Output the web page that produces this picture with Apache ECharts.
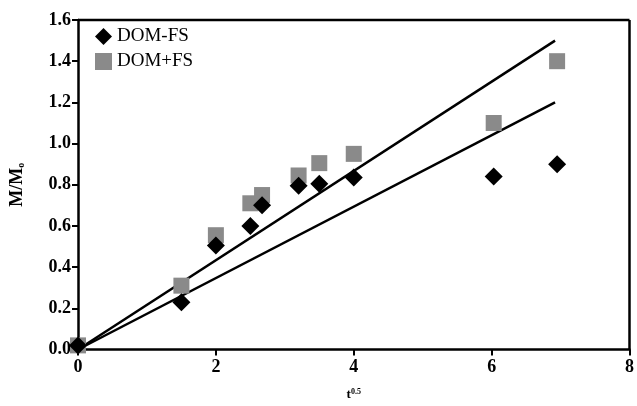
<!DOCTYPE html>
<html>
<head>
<meta charset="utf-8">
<script src="https://cdn.jsdelivr.net/npm/echarts@6/dist/echarts.min.js"></script>
<style>
  html, body { margin: 0; padding: 0; background: #fff; }
  #main { width: 637px; height: 406px; }
</style>
</head>
<body>
<div id="main"></div>
<script>
// t^0.5 values shared by both series
const tSqrt = [0, 1.5, 2, 2.5, 2.67, 3.2, 3.5, 4, 6.03, 6.95];
const domMinusFs = [0.02, 0.23, 0.505, 0.6, 0.7, 0.795, 0.805, 0.835, 0.84, 0.9];
const domPlusFs = [0.02, 0.31, 0.555, 0.71, 0.75, 0.845, 0.905, 0.95, 1.1, 1.4];
// fitted straight lines (start, end)
const fitUpper = [[0, 0], [6.92, 1.5]];
const fitLower = [[0, 0], [6.92, 1.2]];
const xTicks = [0, 2, 4, 6, 8];
const yTicks = [0, 0.2, 0.4, 0.6, 0.8, 1.0, 1.2, 1.4, 1.6];

const pair = (xs, ys) => xs.map((x, i) => [x, ys[i]]);
const font = '"Liberation Serif", "DejaVu Serif", serif';

const chart = echarts.init(document.getElementById('main'));
chart.setOption({
  backgroundColor: '#fff',
  animation: false,
  textStyle: { fontFamily: font },
  grid: { left: 76, right: 4, top: 20, bottom: 56 },
  legend: {
    left: 90, top: 22, orient: 'vertical', itemGap: 6,
    itemWidth: 17, itemHeight: 17,
    data: ['DOM-FS', 'DOM+FS'],
    textStyle: { fontFamily: font, fontSize: 19, color: '#000' }
  },
  xAxis: {
    type: 'value', min: 0, max: 8, interval: 2,
    name: 't{sup|0.5}', nameLocation: 'middle', nameGap: 38,
    nameTextStyle: {
      fontFamily: font, fontSize: 13, fontWeight: 'bold', color: '#000',
      rich: { sup: { fontSize: 8, fontWeight: 'bold', verticalAlign: 'top', padding: [0, 0, 6, 0] } }
    },
    axisLine: { onZero: false, lineStyle: { color: '#000', width: 2.5 } },
    axisTick: { show: true, inside: false, length: 6, lineStyle: { width: 2 } },
    axisLabel: {
      color: '#000', fontSize: 18, fontWeight: 'bold', margin: 9,
      formatter: v => xTicks.includes(v) ? String(v) : ''
    },
    splitLine: { show: false }
  },
  yAxis: {
    type: 'value', min: 0, max: 1.6, interval: 0.2,
    name: 'M/M{sub|o}', nameLocation: 'middle', nameGap: 52,
    nameTextStyle: {
      fontFamily: font, fontSize: 18, fontWeight: 'bold', color: '#000',
      rich: { sub: { fontSize: 10, fontWeight: 'bold', verticalAlign: 'bottom', padding: [7, 0, 0, 0] } }
    },
    axisLine: { onZero: false, lineStyle: { color: '#000', width: 2.5 } },
    axisTick: { show: true, inside: false, length: 6, lineStyle: { width: 2 } },
    axisLabel: {
      color: '#000', fontSize: 18, fontWeight: 'bold', margin: 7,
      formatter: v => yTicks.some(t => Math.abs(t - v) < 1e-6) ? v.toFixed(1) : ''
    },
    splitLine: { show: false }
  },
  series: [
    {
      type: 'line', data: fitUpper, symbol: 'none', silent: true,
      lineStyle: { color: '#000', width: 2.5 }, z: 2
    },
    {
      type: 'line', data: fitLower, symbol: 'none', silent: true,
      lineStyle: { color: '#000', width: 2.5 }, z: 2
    },
    {
      name: 'DOM+FS', type: 'scatter', symbol: 'rect', symbolSize: 16,
      itemStyle: { color: '#8a8a8a', opacity: 1 },
      data: pair(tSqrt, domPlusFs), z: 3
    },
    {
      name: 'DOM-FS', type: 'scatter', symbol: 'diamond', symbolSize: 18,
      itemStyle: { color: '#000', opacity: 1 },
      data: pair(tSqrt, domMinusFs), z: 4
    }
  ]
});

// frame: draw top and right edges of the grid
const g = chart.getModel().getComponent('grid').coordinateSystem.getRect();
chart.setOption({
  graphic: [
    { type: 'line', shape: { x1: g.x, y1: g.y, x2: g.x + g.width, y2: g.y }, style: { stroke: '#000', lineWidth: 2.5 }, z: 10 },
    { type: 'line', shape: { x1: g.x + g.width, y1: g.y, x2: g.x + g.width, y2: g.y + g.height }, style: { stroke: '#000', lineWidth: 2.5 }, z: 10 }
  ]
});
</script>
</body>
</html>
